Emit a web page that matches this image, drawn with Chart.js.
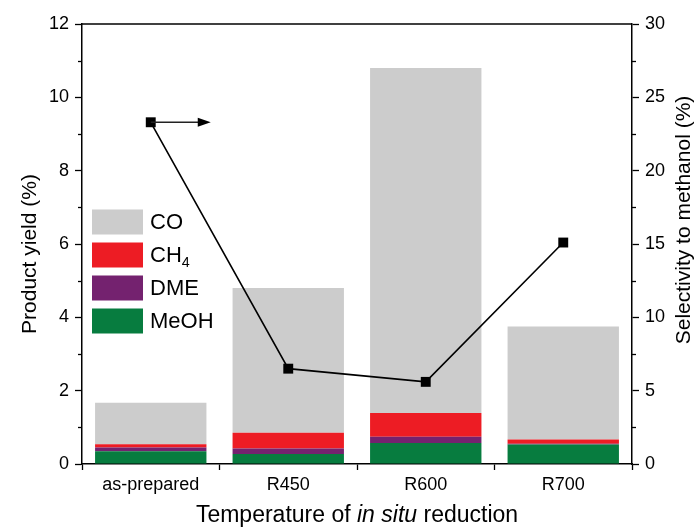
<!DOCTYPE html>
<html><head><meta charset="utf-8">
<script src="https://cdn.jsdelivr.net/npm/chart.js@4.4.1/dist/chart.umd.min.js"></script>
<style>html,body{margin:0;padding:0;background:#fff}#wrap{width:699px;height:529px;position:relative}</style>
</head><body><div id="wrap"><canvas id="c" width="699" height="529"></canvas></div>
<script>
const categories = ['as-prepared', 'R450', 'R600', 'R700'];
const meohYield = [0.35, 0.27, 0.57, 0.53];
const dmeYield = [0.10, 0.15, 0.17, 0.02];
const ch4Yield = [0.09, 0.43, 0.65, 0.12];
const coYield = [1.13, 3.95, 9.41, 3.08];
const selectivity = [23.3, 6.5, 5.6, 15.1];
const seriesLabels = ['MeOH', 'DME', 'CH4', 'CO'];
const seriesColors = ['#077c3f', '#74226f', '#ed1c24', '#cccccc'];
const leftTicks = [0, 2, 4, 6, 8, 10, 12];
const rightTicks = [0, 5, 10, 15, 20, 25, 30];

const FONT = "'Liberation Sans', Arial, sans-serif";

function drawLabel(ctx, text, x, y, size) {
  let cx = x;
  for (let i = 0; i < text.length; i++) {
    const ch = text[i];
    const sub = /[0-9]/.test(ch) && i > 0 && /[A-Za-z]/.test(text[i - 1]);
    if (sub) {
      ctx.font = (size * 0.65) + 'px ' + FONT;
      ctx.fillText(ch, cx, y + size * 0.3);
    } else {
      ctx.font = size + 'px ' + FONT;
      ctx.fillText(ch, cx, y);
    }
    cx += ctx.measureText(ch).width;
  }
}

const extras = {
  id: 'extras',
  afterDraw(chart) {
    const ctx = chart.ctx, ca = chart.chartArea;
    const yS = chart.scales.y, y1S = chart.scales.y1;
    ctx.save();
    ctx.strokeStyle = '#000'; ctx.lineWidth = 1.5;
    // top frame line
    ctx.beginPath(); ctx.moveTo(ca.left, ca.top); ctx.lineTo(ca.right, ca.top); ctx.stroke();
    ctx.lineWidth = 1.3;
    // minor ticks
    for (let v = 1; v < 12; v += 2) {
      const p = Math.round(yS.getPixelForValue(v)) + 0.5;
      ctx.beginPath(); ctx.moveTo(ca.left - 4, p); ctx.lineTo(ca.left, p); ctx.stroke();
    }
    for (let v = 2.5; v < 30; v += 5) {
      const p = Math.round(y1S.getPixelForValue(v)) + 0.5;
      ctx.beginPath(); ctx.moveTo(ca.right, p); ctx.lineTo(ca.right + 4, p); ctx.stroke();
    }
    // arrow from first selectivity point
    const meta = chart.getDatasetMeta(4);
    const pt = meta.data[0];
    const ax0 = pt.x, ay = pt.y, ax1 = pt.x + 60;
    ctx.strokeStyle = '#222'; ctx.lineWidth = 1.5;
    ctx.beginPath(); ctx.moveTo(ax0, ay); ctx.lineTo(ax1 - 10, ay); ctx.stroke();
    ctx.fillStyle = '#000';
    ctx.beginPath(); ctx.moveTo(ax1, ay); ctx.lineTo(ax1 - 13, ay - 4.5); ctx.lineTo(ax1 - 13, ay + 4.5); ctx.closePath(); ctx.fill();

    // legend
    const order = [3, 2, 1, 0];
    order.forEach((di, k) => {
      const ds = chart.data.datasets[di];
      const cy = ca.top + 198 + k * 33;
      ctx.fillStyle = ds.backgroundColor;
      ctx.fillRect(ca.left + 10, cy - 12.5, 51, 25);
      ctx.fillStyle = '#000';
      ctx.textBaseline = 'middle'; ctx.textAlign = 'left';
      drawLabel(ctx, ds.label, ca.left + 68, cy + 1, 22);
    });

    // axis titles
    ctx.fillStyle = '#000';
    ctx.textBaseline = 'middle';
    ctx.textAlign = 'center';
    ctx.font = '21px ' + FONT;
    ctx.save();
    ctx.translate(30, (ca.top + ca.bottom) / 2 + 10);
    ctx.rotate(-Math.PI / 2);
    ctx.fillText('Product yield (%)', 0, 0);
    ctx.restore();
    ctx.save();
    ctx.translate(684, (ca.top + ca.bottom) / 2 - 24);
    ctx.rotate(-Math.PI / 2);
    ctx.fillText('Selectivity to methanol (%)', 0, 0);
    ctx.restore();
    const parts = [['Temperature of ', ''], ['in situ', 'italic '], [' reduction', '']];
    let total = 0;
    parts.forEach(p => { ctx.font = p[1] + '23px ' + FONT; total += ctx.measureText(p[0]).width; });
    let x = (ca.left + ca.right) / 2 - total / 2;
    ctx.textAlign = 'left';
    parts.forEach(p => { ctx.font = p[1] + '23px ' + FONT; ctx.fillText(p[0], x, 516); x += ctx.measureText(p[0]).width; });
    ctx.restore();
  }
};

const barDs = (i, data) => ({
  type: 'bar', label: seriesLabels[i], data: data, backgroundColor: seriesColors[i],
  yAxisID: 'y', stack: 's', order: 2, borderWidth: 0,
  categoryPercentage: 1.0, barPercentage: 0.81
});

new Chart(document.getElementById('c'), {
  data: {
    labels: categories,
    datasets: [
      barDs(0, meohYield), barDs(1, dmeYield), barDs(2, ch4Yield), barDs(3, coYield),
      { type: 'line', label: 'Selectivity', data: selectivity, yAxisID: 'y1', order: 0,
        borderColor: '#000', borderWidth: 1.6, backgroundColor: '#000',
        pointStyle: 'rect', pointRadius: 7, pointBorderWidth: 0, tension: 0 }
    ]
  },
  options: {
    responsive: false, animation: false, devicePixelRatio: 1,
    layout: { padding: { top: 24, left: 0, right: 0, bottom: 0 } },
    plugins: { legend: { display: false }, tooltip: { enabled: false } },
    scales: {
      x: {
        stacked: true, offset: true,
        grid: { offset: true, drawOnChartArea: false, tickLength: 6, tickColor: '#000', tickWidth: 1.3 },
        border: { color: '#000', width: 1.5 },
        ticks: { color: '#000', font: { family: FONT, size: 18 }, padding: 4, maxRotation: 0 },
        afterFit: s => { s.height = 65; }
      },
      y: {
        stacked: true, position: 'left', min: 0, max: 12,
        afterBuildTicks: s => { s.ticks = leftTicks.map(v => ({ value: v })); },
        grid: { drawOnChartArea: false, tickLength: 7, tickColor: '#000', tickWidth: 1.3 },
        border: { color: '#000', width: 1.5 },
        ticks: { color: '#000', font: { family: FONT, size: 18 }, padding: 6 },
        afterFit: s => { s.width = 82; }
      },
      y1: {
        position: 'right', min: 0, max: 30,
        afterBuildTicks: s => { s.ticks = rightTicks.map(v => ({ value: v })); },
        grid: { drawOnChartArea: false, tickLength: 7, tickColor: '#000', tickWidth: 1.3 },
        border: { color: '#000', width: 1.5 },
        ticks: { color: '#000', font: { family: FONT, size: 18 }, padding: 6 },
        afterFit: s => { s.width = 67; }
      }
    }
  },
  plugins: [extras]
});
</script>
</body></html>
